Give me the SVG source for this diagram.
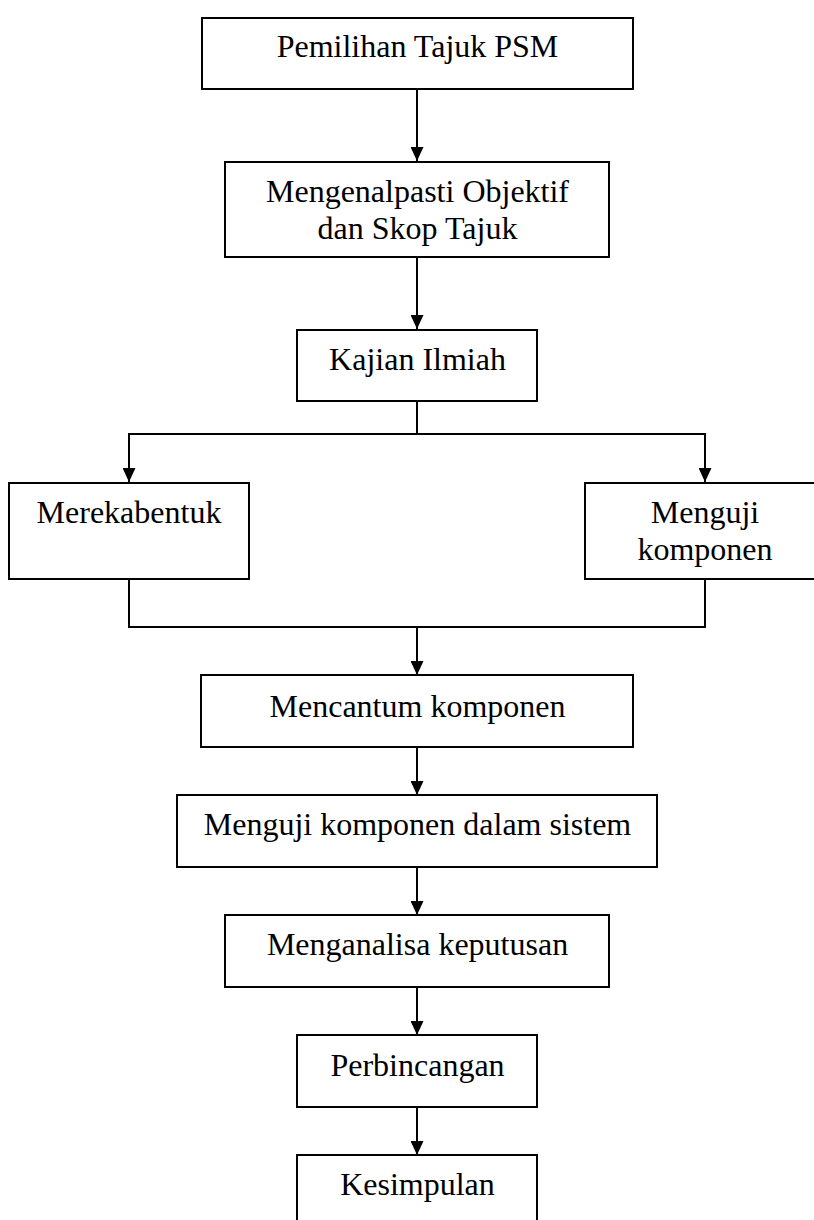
<svg xmlns="http://www.w3.org/2000/svg" width="814" height="1220" viewBox="0 0 814 1220">
<style>
.box{fill:#fff;stroke:#000;stroke-width:2}
.t{font-family:"Liberation Serif","Times New Roman",serif;font-size:32px;fill:#000;text-anchor:middle}
.c{fill:none;stroke:#000;stroke-width:2}
</style>
<defs>
<marker id="ah" viewBox="0 0 14 13" refX="14" refY="6.5" markerWidth="14" markerHeight="13" markerUnits="userSpaceOnUse" orient="auto">
<path d="M0,0 L14,6.5 L0,13 z" fill="#000"/>
</marker>
</defs>
<rect width="814" height="1220" fill="#fff"/>
<g id="connectors">
<line class="c" x1="417" y1="89" x2="417" y2="161" marker-end="url(#ah)"/>
<line class="c" x1="417" y1="257" x2="417" y2="329" marker-end="url(#ah)"/>
<polyline class="c" points="417,401 417,434 129,434 129,482" marker-end="url(#ah)"/>
<polyline class="c" points="417,434 705,434 705,482" marker-end="url(#ah)"/>
<polyline class="c" points="129,579 129,627 705,627 705,579"/>
<line class="c" x1="417" y1="627" x2="417" y2="675" marker-end="url(#ah)"/>
<line class="c" x1="417" y1="748" x2="417" y2="795" marker-end="url(#ah)"/>
<line class="c" x1="417" y1="867" x2="417" y2="915" marker-end="url(#ah)"/>
<line class="c" x1="417" y1="987" x2="417" y2="1035" marker-end="url(#ah)"/>
<line class="c" x1="417" y1="1107" x2="417" y2="1155" marker-end="url(#ah)"/>
</g>
<g id="n1"><rect class="box" x="202" y="18" width="431" height="71"/><text class="t" x="417.5" y="57">Pemilihan Tajuk PSM</text></g>
<g id="n2"><rect class="box" x="225" y="162" width="384" height="95"/><text class="t" x="417.5" y="201.5">Mengenalpasti Objektif</text><text class="t" x="417.5" y="239">dan Skop Tajuk</text></g>
<g id="n3"><rect class="box" x="297" y="330" width="240" height="71"/><text class="t" x="417.5" y="370">Kajian Ilmiah</text></g>
<g id="n4"><rect class="box" x="9" y="483" width="240" height="96"/><text class="t" x="129" y="523">Merekabentuk</text></g>
<g id="n5"><rect class="box" x="585" y="483" width="241" height="96"/><text class="t" x="705" y="523">Menguji</text><text class="t" x="705" y="560">komponen</text></g>
<g id="n6"><rect class="box" x="201" y="675" width="432" height="72"/><text class="t" x="417.5" y="716.5">Mencantum komponen</text></g>
<g id="n7"><rect class="box" x="177" y="795" width="480" height="72"/><text class="t" x="417.5" y="835">Menguji komponen dalam sistem</text></g>
<g id="n8"><rect class="box" x="225" y="915" width="384" height="72"/><text class="t" x="417.5" y="955">Menganalisa keputusan</text></g>
<g id="n9"><rect class="box" x="297" y="1035" width="240" height="72"/><text class="t" x="417.5" y="1075.5">Perbincangan</text></g>
<g id="n10"><rect class="box" x="297" y="1155" width="240" height="80"/><text class="t" x="417.5" y="1195">Kesimpulan</text></g>
</svg>
